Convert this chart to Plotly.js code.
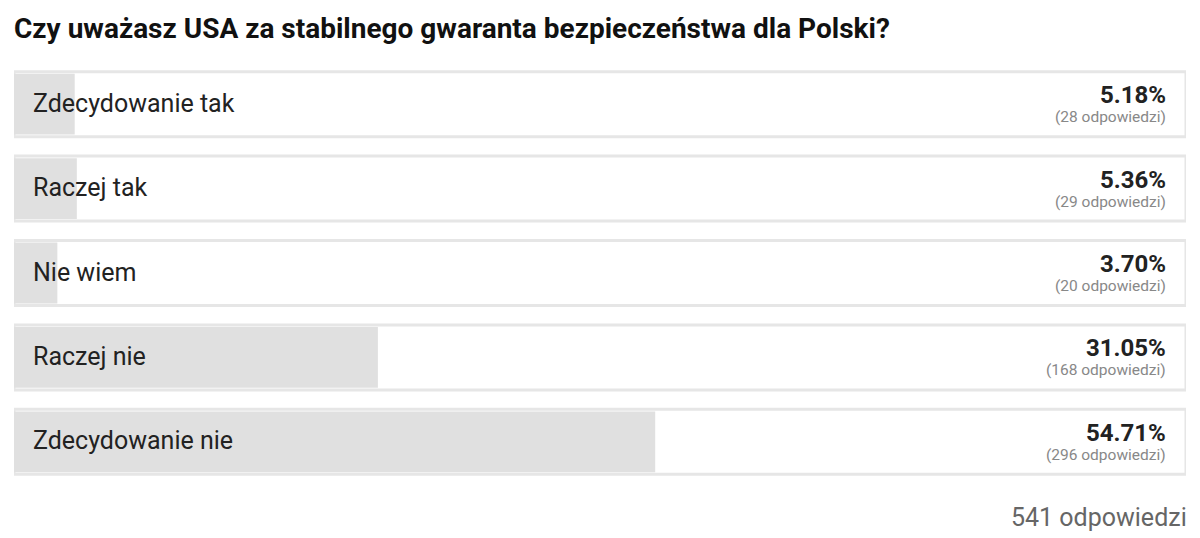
<!DOCTYPE html>
<html><head><meta charset="utf-8">
<script src="https://cdn.plot.ly/plotly-3.0.1.min.js"></script>
<style>html,body{margin:0;padding:0;background:#fff}#chart{width:1200px;height:538px}</style>
</head><body><div id="chart"></div>
<script>
const categories = ["Zdecydowanie tak", "Raczej tak", "Nie wiem", "Raczej nie", "Zdecydowanie nie"];
const percents = [5.18, 5.36, 3.70, 31.05, 54.71];
const counts = [28, 29, 20, 168, 296];
const total = 541;
const titleText = "Czy uważasz USA za stabilnego gwaranta bezpieczeństwa dla Polski?";

const full = categories.map(() => 100);

const traces = [
  {type: 'bar', orientation: 'h', y: categories, x: full,
   marker: {color: '#ffffff', line: {color: '#e6e6e6', width: 3}},
   hoverinfo: 'skip', width: 0.77},
  {type: 'bar', orientation: 'h', y: categories, x: percents,
   marker: {color: '#e0e0e0', line: {width: 0}},
   hoverinfo: 'skip', width: 0.72}
];

const annotations = [];
categories.forEach((c, i) => {
  annotations.push({x: 0, y: c, xref: 'x', yref: 'y', xanchor: 'left', yanchor: 'middle',
    xshift: 17, yshift: 1, text: c, showarrow: false,
    font: {family: 'Roboto', size: 25, color: '#222222'}});
  annotations.push({x: 100, y: c, xref: 'x', yref: 'y', xanchor: 'right', yanchor: 'middle',
    xshift: -18, yshift: 9, text: '<b>' + percents[i].toFixed(2) + '%</b>', showarrow: false,
    font: {family: 'Roboto', size: 24, color: '#222222'}});
  annotations.push({x: 100, y: c, xref: 'x', yref: 'y', xanchor: 'right', yanchor: 'middle',
    xshift: -18, yshift: -13, text: '(' + counts[i] + ' odpowiedzi)', showarrow: false,
    font: {family: 'Roboto', size: 15.5, color: '#888888'}});
});
annotations.push({x: 1, y: 0, xref: 'paper', yref: 'paper', xanchor: 'right', yanchor: 'middle',
  xshift: 3, yshift: -33, text: total + ' odpowiedzi', showarrow: false,
  font: {family: 'Roboto', size: 25, color: '#666666'}});

const layout = {
  width: 1200, height: 538,
  margin: {l: 14, r: 14, t: 62, b: 54},
  paper_bgcolor: '#ffffff', plot_bgcolor: '#ffffff',
  barmode: 'overlay',
  showlegend: false,
  title: {text: '<b>' + titleText + '</b>', x: 0.0117, xanchor: 'left', y: 0.948, yanchor: 'middle',
    font: {family: 'Roboto', size: 28, color: '#111111'}},
  xaxis: {range: [0, 100], visible: false, fixedrange: true},
  yaxis: {autorange: 'reversed', visible: false, fixedrange: true, type: 'category'},
  annotations: annotations
};

Plotly.newPlot('chart', traces, layout, {displayModeBar: false, staticPlot: true});
</script></body></html>
